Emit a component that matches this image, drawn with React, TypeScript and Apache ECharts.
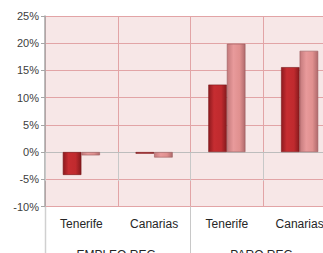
import React, { useEffect, useRef } from "react";
import * as echarts from "echarts";

const categories = ["Tenerife", "Canarias", "Tenerife", "Canarias"];
const groups = ["EMPLEO REG.", "PARO REG."];
const seriesA = [-4.2, -0.3, 12.4, 15.6];
const seriesB = [-0.6, -1.0, 19.9, 18.6];
const yMin = -10;
const yMax = 25;
const yStep = 5;

const FONT = "Liberation Sans, Arial, sans-serif";

export default function App() {
  const ref = useRef<HTMLDivElement>(null);
  useEffect(() => {
    document.body.style.margin = "0";
    document.body.style.overflow = "hidden";
    if (!ref.current) return;
    const chart = echarts.init(ref.current, undefined, { renderer: "svg" });
    const darkGrad = {
      type: "linear", x: 0, y: 0, x2: 1, y2: 0,
      colorStops: [
        { offset: 0, color: "#8e1a1f" },
        { offset: 0.3, color: "#c62d31" },
        { offset: 0.7, color: "#c02a2e" },
        { offset: 1, color: "#861a1d" },
      ],
    };
    const lightGrad = {
      type: "linear", x: 0, y: 0, x2: 1, y2: 0,
      colorStops: [
        { offset: 0, color: "#c47a7c" },
        { offset: 0.35, color: "#e89a9b" },
        { offset: 0.7, color: "#e0908f" },
        { offset: 1, color: "#b06a6c" },
      ],
    };
    chart.setOption({
      animation: false,
      grid: {
        left: 45, top: 16, width: 291, height: 190.5,
        outerBoundsMode: "none",
        containLabel: false,
        show: true, backgroundColor: "#f7e7e7", borderWidth: 0,
      },
      xAxis: [
        {
          type: "category",
          data: categories,
          position: "bottom",
          axisLine: { show: false },
          axisTick: { show: true, length: 29, lineStyle: { color: "#c8c8c8" } },
          axisLabel: { margin: 11, fontSize: 12, color: "#262626", fontFamily: FONT },
          splitLine: { show: true, lineStyle: { color: "#e2a4a6", width: 1 } },
        },
        {
          type: "category",
          data: groups,
          position: "bottom",
          axisLine: { show: false },
          axisTick: { show: true, length: 60, lineStyle: { color: "#c8c8c8" } },
          axisLabel: { margin: 42, fontSize: 12, color: "#262626", fontFamily: FONT },
          splitLine: { show: false },
        },
      ],
      yAxis: {
        type: "value",
        min: yMin,
        max: yMax,
        interval: yStep,
        axisLine: { show: true, lineStyle: { color: "#a6a6a6", width: 1.5 } },
        axisTick: { show: true, length: 4, lineStyle: { color: "#a6a6a6" } },
        axisLabel: {
          formatter: "{value}%", fontSize: 11, color: "#404040",
          fontFamily: FONT, margin: 6,
        },
        splitLine: { show: true, lineStyle: { color: "#e2a4a6", width: 1 } },
      },
      graphic: [
        {
          type: "line",
          shape: { x1: 45.5, y1: 207, x2: 45.5, y2: 253 },
          style: { stroke: "#d0d0d0", lineWidth: 1.5 },
          z: 10,
        },
      ],
      series: [
        {
          type: "bar",
          data: seriesA,
          barGap: "0%",
          barCategoryGap: "49%",
          itemStyle: { color: darkGrad, borderColor: "#7a1518", borderWidth: 0.6 },
          markLine: {
            silent: true,
            symbol: "none",
            label: { show: false },
            lineStyle: { color: "#bdbdbd", type: "solid", width: 1 },
            data: [{ yAxis: 0 }],
            z: 1,
          },
        },
        {
          type: "bar",
          data: seriesB,
          itemStyle: { color: lightGrad, borderColor: "#9a5a5c", borderWidth: 0.6 },
        },
      ],
    });
    return () => chart.dispose();
  }, []);
  return (
    <div style={{ position: "absolute", left: 0, top: 0, width: 323, height: 253, overflow: "hidden" }}>
      <div ref={ref} style={{ width: 345, height: 253 }} />
    </div>
  );
}
